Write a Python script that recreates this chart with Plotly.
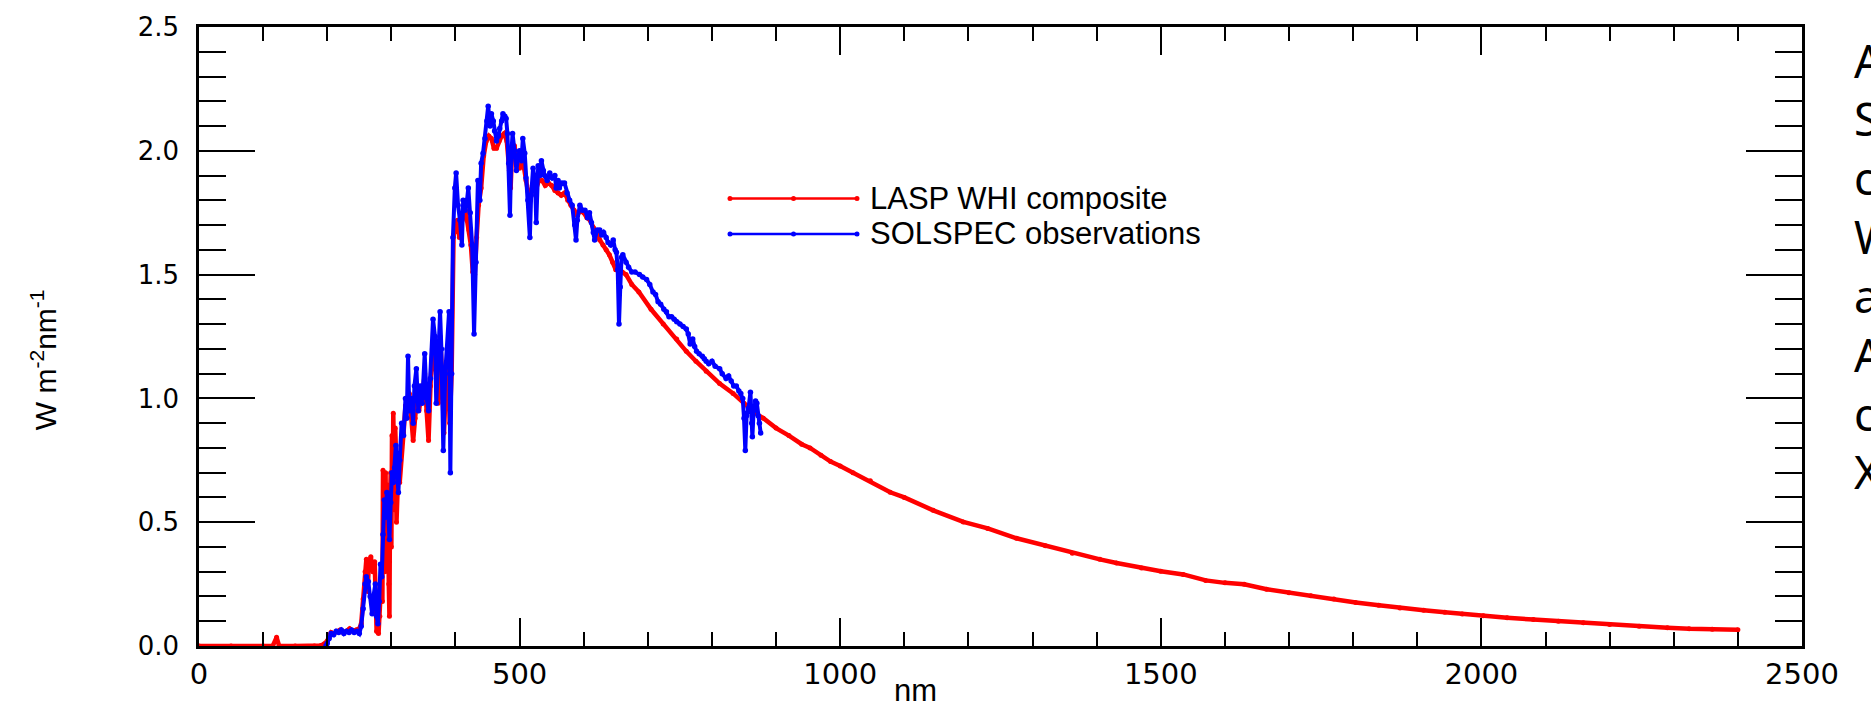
import plotly.graph_objects as go

# ---------------- data ----------------
lasp_nm = [0, 50, 100, 115, 121, 125, 150, 180, 190, 195, 200, 203, 206, 210, 215, 220, 225, 230, 235, 240,
           245, 250, 253, 256, 259, 261, 263, 265, 268, 271, 274, 277, 280, 282, 283, 285, 286, 287, 288, 289,
           290, 291, 292, 293, 294, 295, 296, 297, 298, 299, 300, 301, 302, 303, 304, 305, 306, 307, 308, 309,
           311, 313, 316, 319, 322, 325, 328, 331, 334, 337, 340, 343, 346, 349,
           352, 355, 358, 361, 364, 367, 370, 373, 376, 379, 382, 385, 388, 391, 394, 397, 400, 403, 406, 409,
           412, 415, 418, 421, 424, 427, 430, 433, 436, 440, 444, 448, 452, 456, 460, 464, 468, 472, 476, 480,
           484, 486, 488, 492, 496, 500, 505, 510, 514, 517, 520, 525, 530, 535, 540, 545, 550, 555, 560, 565,
           570, 575, 580, 585, 590, 595, 600, 605, 610, 615, 620, 625, 630, 635, 640, 645, 650, 655, 660, 666,
           675, 686, 705, 724, 745, 760, 775, 791, 812, 833, 850, 865, 880, 900, 920, 940, 953, 970, 985, 1000,
           1020, 1047, 1078, 1100, 1145, 1192, 1230, 1275, 1320, 1362, 1405, 1431, 1470, 1500, 1535, 1570, 1600,
           1630, 1665, 1700, 1734, 1770, 1804, 1840, 1873, 1910, 1943, 1970, 2003, 2040, 2081, 2120, 2159, 2200,
           2246, 2290, 2324, 2360, 2400]
lasp_irr = [0.0, 0.0, 0.0, 0.0, 0.035, 0.0, 0.0, 0.0005, 0.002, 0.008, 0.02, 0.04, 0.055, 0.05, 0.06, 0.065, 0.055, 0.06, 0.07, 0.06,
            0.065, 0.07, 0.09, 0.19, 0.30, 0.35, 0.22, 0.34, 0.36, 0.30, 0.34, 0.06, 0.05, 0.12, 0.20, 0.33, 0.18, 0.71, 0.40, 0.62,
            0.30, 0.70, 0.35, 0.45, 0.65, 0.55, 0.25, 0.12, 0.60, 0.70, 0.40, 0.85, 0.55, 0.94, 0.60, 0.55, 0.88, 0.80, 0.50, 0.62,
            0.72, 0.66, 0.80, 0.86, 0.97, 0.98, 1.02, 0.93, 0.83, 0.92, 1.00, 0.95, 1.00, 1.02,
            1.10, 0.95, 0.83, 1.05, 1.20, 1.15, 1.10, 0.98, 1.25, 1.10, 0.86, 1.05, 1.20, 0.90, 1.10, 1.66, 1.68, 1.72, 1.65, 1.70,
            1.75, 1.78, 1.72, 1.68, 1.62, 1.51, 1.50, 1.65, 1.78, 1.85, 1.98, 2.04, 2.06, 2.05, 2.01, 2.01, 2.04, 2.06, 2.07, 2.04,
            1.92, 1.85, 1.98, 2.02, 1.95, 1.93, 1.96, 1.88, 1.82, 1.80, 1.86, 1.84, 1.88, 1.88, 1.86, 1.87, 1.86, 1.84, 1.83, 1.82,
            1.83, 1.80, 1.78, 1.76, 1.74, 1.76, 1.75, 1.73, 1.72, 1.69, 1.67, 1.64, 1.62, 1.60, 1.58, 1.55, 1.52, 1.52, 1.51, 1.50,
            1.46, 1.43, 1.36, 1.30, 1.24, 1.19, 1.15, 1.11, 1.06, 1.02, 0.98, 0.945, 0.92, 0.88, 0.85, 0.815, 0.80, 0.77, 0.745, 0.727,
            0.70, 0.667, 0.621, 0.60, 0.548, 0.501, 0.475, 0.435, 0.405, 0.375, 0.35, 0.335, 0.315, 0.302, 0.289, 0.265, 0.255,
            0.249, 0.229, 0.215, 0.203, 0.19, 0.176, 0.165, 0.153, 0.144, 0.136, 0.129, 0.122, 0.114, 0.107, 0.100, 0.094, 0.087,
            0.080, 0.074, 0.070, 0.068, 0.066]

solspec_nm = [198, 200, 203, 206, 210, 214, 218, 222, 226, 230, 234, 238, 242, 246, 250, 253, 256, 259, 261, 264,
              267, 270, 272, 275, 277, 279, 281, 283, 285, 287, 289, 291, 293, 295, 297, 299, 301, 303, 305, 307,
              309, 311, 313, 316, 319, 322, 324, 326, 328, 331, 334, 336, 339, 342, 345, 348, 352, 355, 358, 361,
              365, 368, 370, 373, 376, 378, 381, 384, 387, 390, 392, 394, 396, 399, 401, 404, 407, 410, 412, 415,
              418, 420, 423, 426, 429, 432, 435, 438, 440, 443, 446, 449, 451, 454, 456, 459, 461, 464, 467, 469,
              472, 474, 477, 479, 481, 483, 485, 487, 489, 492, 495, 498, 500, 503, 505, 508, 510, 513, 516, 518,
              521, 524, 526, 529, 532, 534, 537, 539, 543, 547, 551, 555, 557, 560, 562, 566, 570, 574, 578, 582,
              586, 588, 590, 594, 598, 602, 606, 609, 612, 615, 617, 621, 625, 628, 631, 635, 638, 642, 646, 649,
              651, 653, 655, 657, 659, 661, 666, 670, 675, 680, 687, 692, 698, 703, 708, 712, 716, 720, 725, 729,
              733, 737, 741, 745, 750, 755, 760, 763, 766, 770, 773, 776, 780, 785, 788, 791, 795, 800, 805, 812,
              816, 822, 826, 830, 834, 838, 842, 845, 848, 850, 852, 854, 857, 860, 862, 863, 865, 868, 870, 872,
              874, 876]
solspec_irr = [0.0, 0.01, 0.03, 0.05, 0.045, 0.06, 0.055, 0.065, 0.05, 0.06, 0.055, 0.065, 0.055, 0.06, 0.05, 0.08, 0.15, 0.25, 0.28, 0.26,
               0.20, 0.13, 0.20, 0.25, 0.12, 0.09, 0.18, 0.33, 0.28, 0.45, 0.59, 0.52, 0.62, 0.55, 0.43, 0.58, 0.70, 0.66, 0.72, 0.81,
               0.70, 0.62, 0.75, 0.90, 0.85, 1.00, 0.92, 1.17, 0.95, 1.00, 0.90, 1.05, 1.12, 0.95, 1.05, 0.98, 1.18, 1.00, 0.95, 1.08,
               1.32, 1.25, 0.98, 1.15, 1.35, 1.20, 0.79, 1.10, 1.20, 1.35, 0.70, 1.10, 1.65, 1.85, 1.91, 1.78, 1.72, 1.62, 1.80, 1.76,
               1.80, 1.85, 1.75, 1.62, 1.26, 1.55, 1.88, 1.80, 1.95, 1.99, 2.05, 2.12, 2.18, 2.10, 2.15, 2.12, 2.08, 2.04, 2.06, 2.09,
               2.12, 2.15, 2.14, 2.13, 2.07, 1.95, 1.74, 1.98, 2.07, 2.00, 1.92, 1.98, 2.00, 1.96, 2.05, 1.99, 1.89, 1.80, 1.65, 1.82,
               1.93, 1.88, 1.71, 1.94, 1.90, 1.96, 1.92, 1.90, 1.88, 1.91, 1.89, 1.90, 1.85, 1.88, 1.85, 1.87, 1.87, 1.83, 1.80, 1.78,
               1.70, 1.64, 1.72, 1.78, 1.76, 1.76, 1.73, 1.75, 1.71, 1.67, 1.64, 1.68, 1.68, 1.66, 1.67, 1.65, 1.63, 1.62, 1.64, 1.60,
               1.59, 1.52, 1.30, 1.45, 1.57, 1.58, 1.55, 1.53, 1.51, 1.51, 1.50, 1.49, 1.48, 1.46, 1.43, 1.42, 1.39, 1.38, 1.36, 1.35,
               1.33, 1.33, 1.32, 1.31, 1.30, 1.29, 1.28, 1.26, 1.22, 1.24, 1.21, 1.19, 1.18, 1.17, 1.16, 1.15, 1.14, 1.15, 1.13, 1.12,
               1.10, 1.08, 1.09, 1.07, 1.05, 1.05, 1.03, 1.02, 1.00, 0.92, 0.79, 0.93, 0.96, 1.025, 0.90, 0.845, 0.95, 0.99, 0.98, 0.93,
               0.90, 0.86]

series_names = ["LASP WHI composite", "SOLSPEC observations"]
series_colors = ["#ff0000", "#0000ff"]
x_title = "nm"
y_title = "W m<sup>-2</sup>nm<sup>-1</sup>"
side_letters = ["A", "S", "c", "W", "a", "A", "c", "X"]

# ---------------- figure ----------------
W, H = 1871, 708
L, R, T, B = 199, 69, 18, 62

fig = go.Figure()
fig.add_trace(go.Scatter(x=lasp_nm, y=lasp_irr, mode="lines+markers", name=series_names[0],
                         line=dict(color=series_colors[0], width=4.5),
                         marker=dict(color=series_colors[0], size=5), showlegend=False))
fig.add_trace(go.Scatter(x=solspec_nm, y=solspec_irr, mode="lines+markers", name=series_names[1],
                         line=dict(color=series_colors[1], width=4),
                         marker=dict(color=series_colors[1], size=5.5), showlegend=False))

tickfont = dict(family="DejaVu Sans, Liberation Sans, Arial", size=29, color="black")
fig.update_xaxes(range=[0, 2500], tick0=0, dtick=500, ticks="inside", ticklen=28, tickwidth=2,
                 tickcolor="black", showline=True, linewidth=2.5, linecolor="black", mirror="ticks",
                 showgrid=False, zeroline=False, tickfont=tickfont,
                 minor=dict(dtick=100, ticks="inside", ticklen=14, tickwidth=2, tickcolor="black", showgrid=False))
fig.update_yaxes(range=[0, 2.5], tick0=0, dtick=0.5, tickformat=".1f", ticks="inside", ticklen=56, tickwidth=2,
                 tickcolor="black", showline=True, linewidth=2.5, linecolor="black", mirror="ticks",
                 showgrid=False, zeroline=False, tickfont=dict(tickfont, size=26), ticklabelstandoff=12,
                 minor=dict(dtick=0.1, ticks="inside", ticklen=27, tickwidth=2, tickcolor="black", showgrid=False))

pw, ph = W - L - R, H - T - B
def px_x(p):
    return (p - L) / pw
def px_y(p):
    return (H - B - p) / ph

annotations = [
    dict(text=x_title, xref="paper", yref="paper", x=px_x(915), y=px_y(691), xanchor="center", yanchor="middle",
         showarrow=False, font=dict(family="Liberation Sans, Arial", size=31, color="black")),
    dict(text=y_title, xref="paper", yref="paper", x=px_x(44), y=px_y(356), xanchor="center", yanchor="middle",
         textangle=-90, showarrow=False, font=dict(family="Liberation Sans, Arial", size=30, color="black")),
]
# manual legend
shapes = []
leg_y = [192, 228]
for i, (nm, col) in enumerate(zip(series_names, series_colors)):
    yy = px_y(leg_y[i])
    shapes.append(dict(type="line", xref="paper", yref="paper", x0=px_x(730), x1=px_x(857), y0=yy, y1=yy,
                       line=dict(color=col, width=2.5)))
    for xd in (730, 793.5, 857):
        shapes.append(dict(type="circle", xref="paper", yref="paper", xsizemode="pixel", ysizemode="pixel",
                           xanchor=px_x(xd), yanchor=yy, x0=-2.5, x1=2.5, y0=-2.5, y1=2.5,
                           fillcolor=col, line=dict(color=col, width=0)))
    annotations.append(dict(text=nm, xref="paper", yref="paper", x=px_x(868), y=yy, xanchor="left",
                            yanchor="middle", showarrow=False,
                            font=dict(family="Liberation Sans, Arial", size=31, color="black")))

letter_y = [52, 111, 171, 231, 290, 350, 410, 469]
for ch, yc in zip(side_letters, letter_y):
    annotations.append(dict(text=ch, xref="paper", yref="paper", x=px_x(1852), y=px_y(yc), xanchor="left",
                            yanchor="middle", showarrow=False,
                            font=dict(family="Noto Sans, Open Sans, Arial", size=45, color="black")))

fig.update_layout(width=W, height=H, margin=dict(l=L, r=R, t=T, b=B, pad=0),
                  paper_bgcolor="white", plot_bgcolor="white", showlegend=False,
                  annotations=annotations, shapes=shapes)

fig.write_html("out.html", config={"displayModeBar": False},
               post_script="document.body.style.margin='0';document.body.style.overflow='hidden';")
